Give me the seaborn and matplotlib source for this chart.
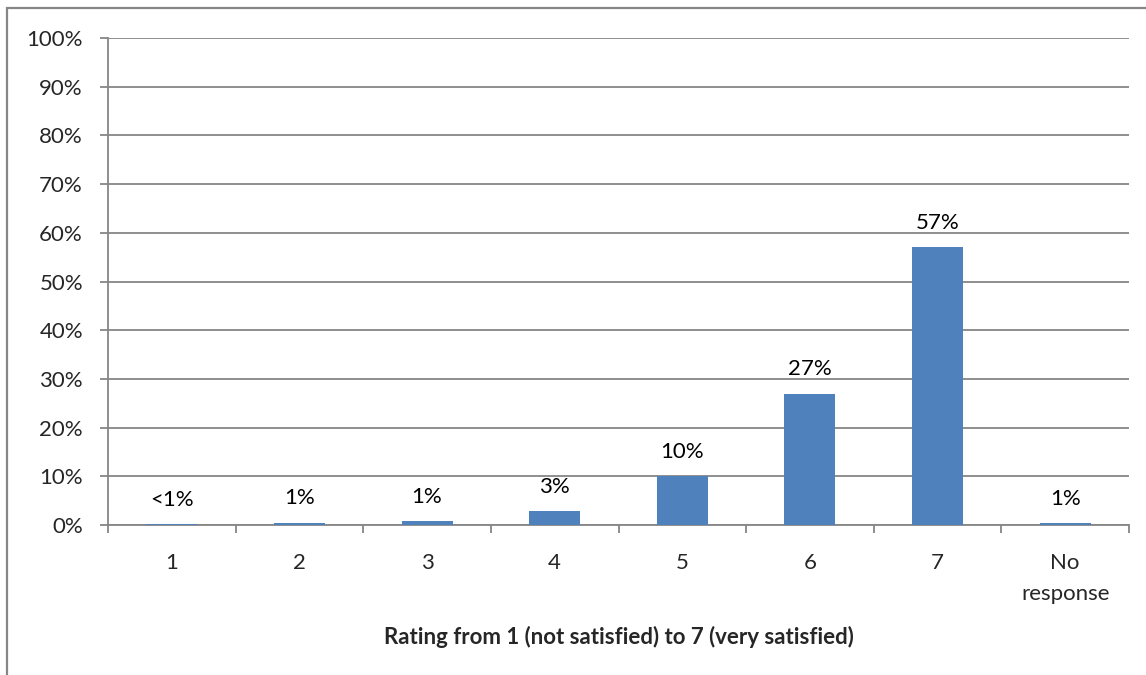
import numpy as np
import pandas as pd
import seaborn as sns
import matplotlib.pyplot as plt
from matplotlib.patches import Rectangle

# values (percent of respondents)
categories = ["1", "2", "3", "4", "5", "6", "7", "No\nresponse"]
shares = [0.2, 0.5, 0.85, 2.8, 10, 27, 57, 0.35]
bar_labels = ["<1%", "1%", "1%", "3%", "10%", "27%", "57%", "1%"]
y_ticks = list(range(0, 101, 10))

bar_color = "#4F81BD"
line_gray = "#868686"

sns.set_style("white")
plt.rcParams['font.family'] = ['Lato', 'DejaVu Sans']

df = pd.DataFrame({"rating": categories, "share": shares})

fig = plt.figure(figsize=(11.46, 6.75), dpi=100)
ax = fig.add_axes([108 / 1146, 1 - 525 / 675, (1129 - 108) / 1146, (525 - 38) / 675])

sns.barplot(data=df, x="rating", y="share", color=bar_color, width=0.4,
            saturation=1, linewidth=0, ax=ax, zorder=3)

# data labels above each bar
for i, (v, lab) in enumerate(zip(shares, bar_labels)):
    ax.annotate(lab, xy=(i, v), xytext=(0, 17.5), textcoords="offset points",
                ha="center", va="center", fontsize=16, color="black")

ax.set_ylim(0, 100)
ax.set_yticks(y_ticks)
ax.set_yticklabels([f"{t}%" for t in y_ticks], fontsize=16)
ax.yaxis.grid(True, color=line_gray, linewidth=1.3, zorder=0)

# category boundaries as major ticks, labels on minor ticks at centres
ax.set_xlim(-0.5, len(categories) - 0.5)
ax.set_xticks(np.arange(-0.5, len(categories), 1))
ax.set_xticklabels([])
ax.set_xticks(range(len(categories)), minor=True)
ax.set_xticklabels(categories, minor=True, fontsize=16, linespacing=1.7)
ax.tick_params(axis="x", which="minor", length=0, pad=20)
ax.tick_params(axis="both", which="major", length=6, width=1.3,
               color=line_gray, direction="out")
ax.tick_params(axis="y", pad=12)
ax.tick_params(axis="x", which="major", bottom=True)
ax.tick_params(axis="y", left=True)

ax.set_ylabel("")
ax.set_xlabel("Rating from 1 (not satisfied) to 7 (very satisfied)",
              fontsize=16, fontweight="bold", labelpad=16)

for side in ["top", "right"]:
    ax.spines[side].set_visible(False)
for side in ["left", "bottom"]:
    ax.spines[side].set_color(line_gray)
    ax.spines[side].set_linewidth(1.3)

# chart area border (cut off at the right and bottom like the source)
fig.patches.append(Rectangle((7 / 1146, -0.1), 1.2, 1.1 - 8 / 675,
                             transform=fig.transFigure, fill=False,
                             edgecolor=line_gray, linewidth=1.6))

fig.savefig("out.png", dpi=100)
